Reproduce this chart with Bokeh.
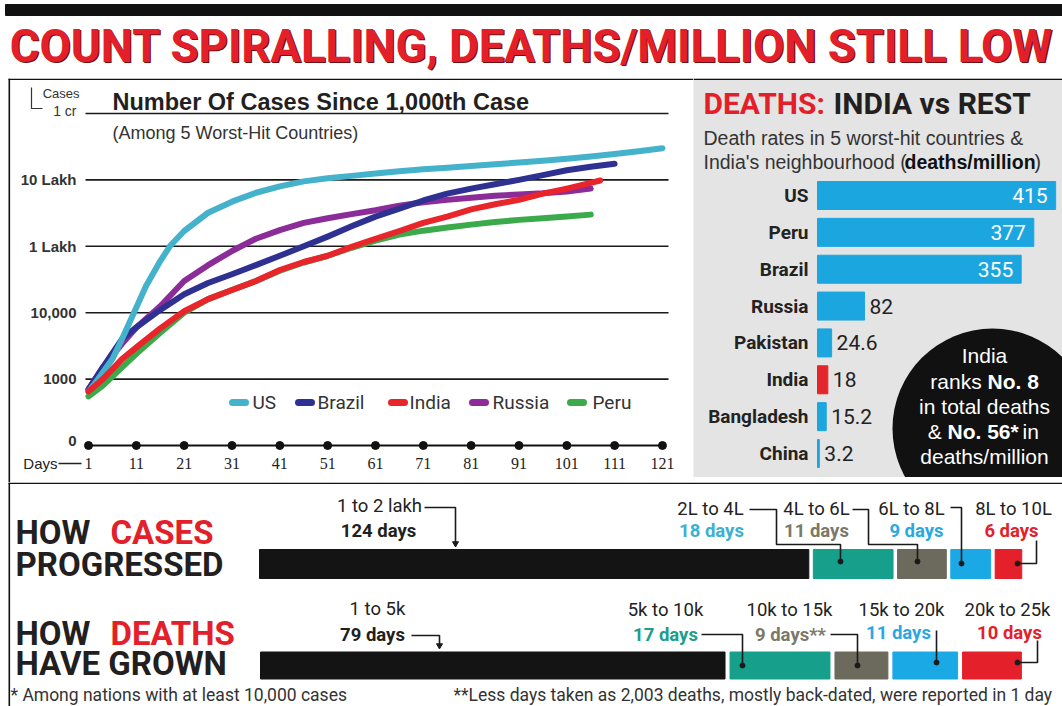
import numpy as np
from bokeh.plotting import figure
from bokeh.models import Range1d
from bokeh.layouts import column, row
from bokeh.embed import file_html
from bokeh.resources import INLINE
from bokeh.core.properties import value

SANS = "Liberation Sans"
COND = "Roboto"
SERIF = "Liberation Serif"
INK = "#231f20"

# ------------------------------------------------------------------ data
headline = "COUNT SPIRALLING, DEATHS/MILLION STILL LOW"
chart_title = "Number Of Cases Since 1,000th Case"
chart_subtitle = "(Among 5 Worst-Hit Countries)"

countries = ["US", "Brazil", "India", "Russia", "Peru"]
country_colors = ["#45b2cb", "#2e3192", "#e8252b", "#8b2c98", "#3aaa4b"]

us_days = [1, 3, 6, 8, 11, 13, 16, 18, 21, 26, 31, 36, 41, 46, 51, 56, 61, 66, 71, 76, 81, 86, 91, 96, 101, 106, 111, 116, 121]
us_cases = [650, 1000, 2000, 4000, 12000, 25000, 60000, 100000, 170000, 320000, 470000, 640000, 800000, 950000,
            1060000, 1150000, 1250000, 1350000, 1450000, 1530000, 1620000, 1720000, 1830000, 1950000,
            2080000, 2250000, 2450000, 2700000, 3000000]

brazil_days = [1, 4, 8, 11, 16, 21, 26, 31, 36, 41, 46, 51, 56, 61, 66, 71, 76, 81, 86, 91, 96, 101, 106, 111]
brazil_cases = [700, 1500, 4000, 6000, 11000, 19000, 28000, 38000, 52000, 72000, 100000, 140000, 200000, 280000,
                370000, 490000, 620000, 740000, 860000, 1000000, 1180000, 1400000, 1580000, 1750000]

india_days = [1, 4, 8, 11, 16, 21, 26, 31, 36, 41, 46, 51, 56, 61, 66, 71, 76, 81, 86, 91, 96, 101, 106, 108]
india_cases = [650, 1000, 2000, 3000, 5800, 10500, 16000, 22000, 30000, 44000, 58000, 72000, 98000, 130000,
               170000, 225000, 280000, 360000, 430000, 500000, 620000, 740000, 900000, 980000]

russia_days = [1, 4, 8, 11, 16, 21, 26, 31, 36, 41, 46, 51, 56, 61, 66, 71, 76, 81, 86, 91, 96, 101, 106]
russia_cases = [700, 1500, 3400, 6000, 12500, 30000, 52000, 85000, 130000, 175000, 225000, 265000, 305000, 350000,
                410000, 460000, 500000, 540000, 575000, 605000, 630000, 670000, 740000]

peru_days = [1, 4, 8, 11, 16, 21, 26, 31, 36, 41, 46, 51, 56, 61, 66, 71, 76, 81, 86, 91, 96, 101, 106]
peru_cases = [550, 800, 1500, 2400, 5000, 10000, 16000, 22000, 30000, 43000, 57000, 72000, 95000, 122000,
              150000, 172000, 192000, 212000, 232000, 250000, 265000, 282000, 300000]

y_tick_values = [1e7, 1e6, 1e5, 1e4, 1e3, 1e2]
y_tick_labels = ["1 cr", "10 Lakh", "1 Lakh", "10,000", "1000", "0"]
x_tick_days = [1, 11, 21, 31, 41, 51, 61, 71, 81, 91, 101, 111, 121]

death_countries = ["US", "Peru", "Brazil", "Russia", "Pakistan", "India", "Bangladesh", "China"]
death_rates = [415, 377, 355, 82, 24.6, 18, 15.2, 3.2]
death_rate_labels = ["415", "377", "355", "82", "24.6", "18", "15.2", "3.2"]
death_bar_colors = ["#1ba6e0"] * 5 + ["#e3262b"] + ["#1ba6e0"] * 2

case_stages = ["1 to 2 lakh", "2L to 4L", "4L to 6L", "6L to 8L", "8L to 10L"]
case_stage_days = [124, 18, 11, 9, 6]
case_day_labels = ["124 days", "18 days", "11 days", "9 days", "6 days"]
death_stages = ["1 to 5k", "5k to 10k", "10k to 15k", "15k to 20k", "20k to 25k"]
death_stage_days = [79, 17, 9, 11, 10]
death_day_labels = ["79 days", "17 days", "9 days**", "11 days", "10 days"]
stage_colors = ["#141414", "#16a08c", "#6c6a5d", "#1ba9e6", "#e4202a"]
case_text_colors = [INK, "#3db0d0", "#7b7969", "#2aa8e2", "#e4202a"]
death_text_colors = [INK, "#1c9e8b", "#7b7969", "#2aa8e2", "#e4202a"]


def T(p, x, y, s, size, color=INK, font=SANS, style="normal", align="left", base="middle", **kw):
    xs = x if isinstance(x, (list, np.ndarray)) else [x]
    ys = y if isinstance(y, (list, np.ndarray)) else [y]
    ss = s if isinstance(s, list) else [s]
    p.text(x=xs, y=ys, text=ss, text_font=value(font), text_font_size=f"{size}px",
           text_font_style=style, text_color=color, text_align=align, text_baseline=base, **kw)


def base_fig(w, h, xr, yr, bg="white", **kw):
    p = figure(width=w, height=h, x_range=xr, y_range=yr, output_backend="svg", toolbar_location=None,
               x_axis_location=None, y_axis_location=None, min_border=0, **kw)
    p.grid.visible = False
    p.outline_line_color = None
    p.background_fill_color = bg
    p.border_fill_color = bg
    return p


# ------------------------------------------------------------------ header (page px 0..78)
HW, HH = 1062, 78
head = base_fig(HW, HH, Range1d(0, HW), Range1d(HH, 0))
head.quad(left=[5], right=[HW], top=[4], bottom=[15], color="#111111")
T(head, HW / 2 + 1.3, 47.3, headline, 45.5, color="#6e1013", font=COND, style="bold", align="center")
T(head, HW / 2, 46, headline, 45.5, color="#e3202a", font=COND, style="bold", align="center")

# ------------------------------------------------------------------ left: line chart (log)
LW, LH = 693, 404
PXD = 4.783            # px per day
X0 = 88                # px of day 1
PPD = 66.4             # px per decade
LT = 7 + 35 / PPD      # log10 value at top edge
xs0 = 1 - X0 / PXD
left = base_fig(LW, LH, Range1d(xs0, xs0 + LW / PXD), Range1d(10 ** (LT - LH / PPD), 10 ** LT),
                y_axis_type="log")


def LX(px):
    return xs0 + px / PXD


def LY(py):
    return 10 ** (LT - py / PPD)


# borders
left.segment(x0=[LX(8.8)], y0=[LY(0)], x1=[LX(8.8)], y1=[LY(LH)], line_color="#111", line_width=1.6)
left.segment(x0=[LX(8)], y0=[LY(0.8)], x1=[LX(LW)], y1=[LY(0.8)], line_color="#111", line_width=1.6)

# grid lines at decades
grid_vals = y_tick_values[:-1]
left.segment(x0=[LX(85)] * len(grid_vals), y0=grid_vals, x1=[LX(668)] * len(grid_vals), y1=grid_vals,
             line_color="#1a1a1a", line_width=1.6)
T(left, [LX(76)] * 4, y_tick_values[1:5], y_tick_labels[1:5], 15, style="bold", align="right", color="#333")
T(left, LX(76), y_tick_values[5], y_tick_labels[5], 15, style="bold", align="right", color="#333", y_offset=-5)
T(left, LX(76), y_tick_values[0], y_tick_labels[0], 14, align="right", color="#333", y_offset=-3)
T(left, LX(79), LY(15), "Cases", 13, align="right", color="#333")
left.line(x=[LX(31), LX(31), LX(42)], y=[LY(9), LY(30), LY(30)], line_color="#333", line_width=1.2)

# titles
T(left, LX(112), LY(23.5), chart_title, 23.5, style="bold")
T(left, LX(112), LY(54), chart_subtitle, 18, color="#333")

# series
series = [
    ("Peru", peru_days, peru_cases),
    ("Russia", russia_days, russia_cases),
    ("Brazil", brazil_days, brazil_cases),
    ("US", us_days, us_cases),
    ("India", india_days, india_cases),
]
col = dict(zip(countries, country_colors))
for name, d, c in series:
    left.line(x=d, y=c, line_color=col[name], line_width=6, line_cap="round", line_join="round")

# legend (manual)
leg_marker_px = [239, 305, 398, 479, 577]
leg_text_px = [252, 317, 409, 492, 592]
ly = LY(324)
for name, mx, tx in zip(countries, leg_marker_px, leg_text_px):
    left.segment(x0=[LX(mx - 7)], y0=[ly], x1=[LX(mx + 6)], y1=[ly], line_color=col[name], line_width=7,
                 line_cap="round")
    T(left, LX(tx), ly, name, 19, font=COND, color="#333")

# x axis
left.segment(x0=[x_tick_days[0]], y0=[100], x1=[x_tick_days[-1]], y1=[100], line_color="#111", line_width=2)
left.scatter(x=x_tick_days, y=[100] * len(x_tick_days), size=8, color="#111")
T(left, x_tick_days, [LY(385)] * len(x_tick_days), [str(d) for d in x_tick_days], 16, font=SERIF,
  align="center", color="#222")
T(left, LX(57), LY(385), "Days", 15, align="right", color="#222")
left.segment(x0=[LX(58)], y0=[LY(385)], x1=[LX(81)], y1=[LY(385)], line_color="#222", line_width=1.5)

# ------------------------------------------------------------------ right: deaths per million
RW, RH = 369, 404
PXV = 0.5738      # px per death/million
RB0 = 124         # px of value 0
RC0 = 117         # px of first row centre
RSP = 36.86       # row spacing
rxs = -RB0 / PXV
right = base_fig(RW, RH, Range1d(rxs, rxs + RW / PXV),
                 Range1d((RH - RC0) / RSP, -RC0 / RSP), bg="#e4e4e4")


def RX(px):
    return rxs + px / PXV


def RY(py):
    return (py - RC0) / RSP


right.segment(x0=[RX(0)], y0=[RY(0.8)], x1=[RX(RW)], y1=[RY(0.8)], line_color="#111", line_width=1.6)
T(right, RX(10), RY(25), "DEATHS:", 30, color="#e3202a", font=COND, style="bold")
T(right, RX(140), RY(25), "INDIA vs REST", 30, font=COND, style="bold")
T(right, RX(10), RY(59), "Death rates in 5 worst-hit countries &", 19.5, color="#333")
T(right, RX(10), RY(83), "India's neighbourhood (", 19.5, color="#333")
T(right, RX(211), RY(83), "deaths/million", 19.5, style="bold", color="#111")
T(right, RX(341), RY(83), ")", 19.5, color="#333")

idx = list(range(len(death_countries)))
right.hbar(y=idx, left=0, right=death_rates, height=0.76, color=death_bar_colors)
T(right, [RX(115)] * len(idx), idx, death_countries, 19, font=COND, style="bold", align="right", color="#222")
inside = [i for i, v in enumerate(death_rates) if v > 200]
outside = [i for i, v in enumerate(death_rates) if v <= 200]
T(right, [death_rates[i] - 8 / PXV for i in inside], inside, [death_rate_labels[i] for i in inside], 21,
  font=COND, color="white", align="right")
T(right, [death_rates[i] + 5 / PXV for i in outside], outside, [death_rate_labels[i] for i in outside], 21,
  font=COND, color="#222")

# black circle note
right.circle(x=[RX(299)], y=[RY(350)], radius=100, radius_units="screen", fill_color="#111", line_color=None)
right.quad(left=[RX(0)], right=[RX(RW)], top=[RY(399)], bottom=[RY(RH + 2)], color="white")
T(right, RX(291), RY(277), "India", 21, color="white", align="center")
T(right, RX(294), RY(303), "ranks ", 21, color="white", align="right")
T(right, RX(294), RY(303), "No. 8", 21, color="white", style="bold", align="left")
T(right, RX(291), RY(328), "in total deaths", 21, color="white", align="center")
T(right, RX(254), RY(353), "& ", 21, color="white", align="right")
T(right, RX(254), RY(353), "No. 56*", 21, color="white", style="bold", align="left")
T(right, RX(329), RY(353), "in", 21, color="white", align="left")
T(right, RX(291), RY(378), "deaths/million", 21, color="white", align="center")

# ------------------------------------------------------------------ bottom: progress bars (page y 482..706)
BW, BH = 1062, 224
bottom = base_fig(BW, BH, Range1d(0, BW), Range1d(BH, 0))


def by(ry):
    return ry - 482


C_PPD, C_X0, C_GAP = 4.43, 259, 4.5
D_PPD, D_X0, D_GAP = 5.88, 260, 5.0
cs = -C_X0 / C_PPD
ds = -D_X0 / D_PPD
bottom.extra_x_ranges = {"cases": Range1d(cs, cs + BW / C_PPD), "deaths": Range1d(ds, ds + BW / D_PPD)}

bottom.segment(x0=[8], y0=[0.8], x1=[BW], y1=[0.8], line_color="#111", line_width=1.6)
bottom.segment(x0=[8.8], y0=[0], x1=[8.8], y1=[BH], line_color="#111", line_width=1.6)

cd = np.array(case_stage_days, dtype=float)
c_left = np.concatenate([[0], np.cumsum(cd)[:-1]]) + np.arange(len(cd)) * C_GAP / C_PPD
bottom.hbar(y=by(563.5), left=c_left, right=c_left + cd, height=29, color=stage_colors, x_range_name="cases")
dd = np.array(death_stage_days, dtype=float)
d_left = np.concatenate([[0], np.cumsum(dd)[:-1]]) + np.arange(len(dd)) * D_GAP / D_PPD
bottom.hbar(y=by(665), left=d_left, right=d_left + dd, height=27, color=stage_colors, x_range_name="deaths")

# headings
HS = 33
T(bottom, 15, by(532), "HOW", HS, font=COND, style="bold")
T(bottom, 110, by(532), "CASES", HS, color="#e3202a", font=COND, style="bold")
T(bottom, 15, by(564), "PROGRESSED", HS, font=COND, style="bold")
T(bottom, 15, by(633), "HOW", HS, font=COND, style="bold")
T(bottom, 110, by(633), "DEATHS", HS, color="#e3202a", font=COND, style="bold")
T(bottom, 15, by(663), "HAVE GROWN", HS, font=COND, style="bold")

# stage labels (layout positions in page px)
case_lbl_pos = [(379, 505, 378, 530), (710, 508, 711, 530), (816, 508, 816, 530), (911, 508, 916, 530),
                (1013, 508, 1011, 530)]
death_lbl_pos = [(377, 608, 372, 634), (665, 609, 665, 634), (789, 609, 790, 634), (901, 609, 898, 632),
                 (1007, 609, 1009, 632)]
for i in range(5):
    x1, y1, x2, y2 = case_lbl_pos[i]
    T(bottom, x1, by(y1), case_stages[i], 18.5, font=COND, align="center", color="#222")
    T(bottom, x2, by(y2), case_day_labels[i], 18.5, font=COND, style="bold", align="center",
      color=case_text_colors[i])
    x1, y1, x2, y2 = death_lbl_pos[i]
    T(bottom, x1, by(y1), death_stages[i], 18.5, font=COND, align="center", color="#222")
    T(bottom, x2, by(y2), death_day_labels[i], 18.5, font=COND, style="bold", align="center",
      color=death_text_colors[i])

connectors = [
    [(424, 507), (455, 507), (455, 544)],
    [(749, 509), (776, 509), (776, 544), (840, 544), (840, 561)],
    [(852, 509), (868, 509), (868, 544), (917, 544), (917, 561)],
    [(950, 507), (961, 507), (961, 563)],
    [(1036, 540), (1036, 563), (1017, 563)],
    [(411, 635), (439, 635), (439, 646)],
    [(701, 634), (742, 634), (742, 665)],
    [(830, 634), (857, 634), (857, 665)],
    [(936, 630), (936, 662)],
    [(1037, 640), (1037, 662), (1017, 662)],
]
for k, pts in enumerate(connectors):
    bottom.line(x=[a for a, b in pts], y=[by(b) for a, b in pts], line_color="#1a1a1a", line_width=1.6)
    ex, ey = pts[-1]
    if k in (0, 5):
        bottom.scatter(x=[ex], y=[by(ey) - 1], marker="inverted_triangle", size=6, color="#1a1a1a")
    else:
        bottom.scatter(x=[ex], y=[by(ey)], size=5, color="#1a1a1a")

T(bottom, 10, by(694), "* Among nations with at least 10,000 cases", 17.5, font=COND, color="#333")
T(bottom, 453, by(694),
  "**Less days taken as 2,003 deaths, mostly back-dated, were reported in 1 day", 17.5, font=COND,
  color="#333")

layout = column(head, row(left, right, spacing=0), bottom, spacing=0)
open("out.html", "w").write(file_html(layout, INLINE))
